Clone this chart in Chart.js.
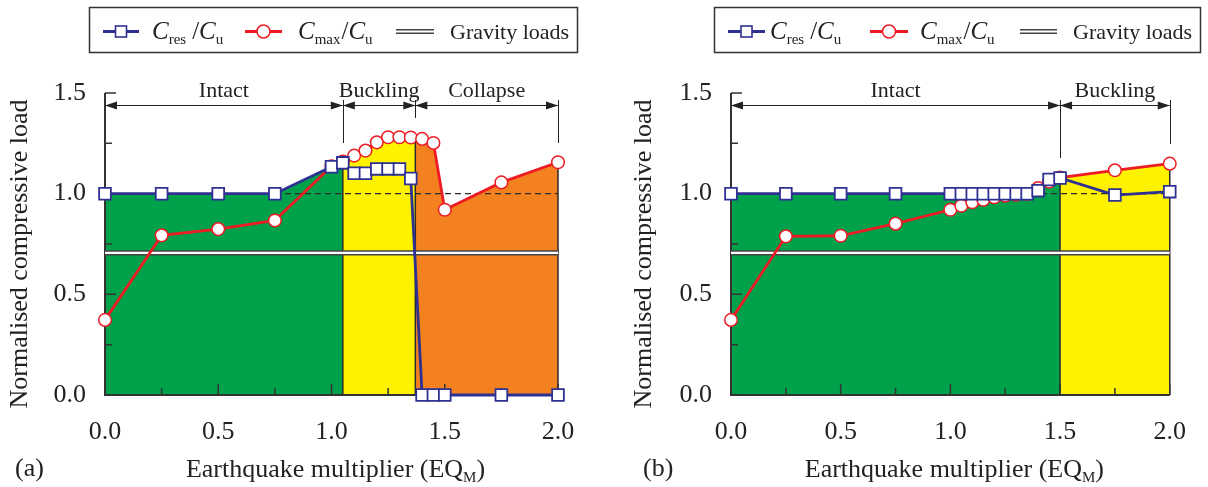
<!DOCTYPE html>
<html>
<head>
<meta charset="utf-8">
<script src="https://cdn.jsdelivr.net/npm/chart.js@4.4.1/dist/chart.umd.min.js"></script>
<style>
  html, body { margin: 0; padding: 0; background: #fff; }
  .panel { position: absolute; top: 0; width: 604px; height: 487px; }
  #wrapA { left: 0; }
  #wrapB { left: 604px; }
</style>
</head>
<body>
<div class="panel" id="wrapA"><canvas id="chartA" width="604" height="487"></canvas></div>
<div class="panel" id="wrapB"><canvas id="chartB" width="604" height="487"></canvas></div>
<script>
// axis ticks
const xTicks = [0, 0.5, 1.0, 1.5, 2.0];
const xMinor = [0.25, 0.75, 1.25, 1.75];
const yTicks = [0, 0.5, 1.0, 1.5];
const yMinor = [0.25, 0.75, 1.25];

// earthquake multipliers (same set for both panels)
const eqM = [0, 0.25, 0.5, 0.75, 1.0, 1.05, 1.10, 1.15, 1.20, 1.25, 1.30, 1.35, 1.40, 1.45, 1.50, 1.75, 2.0];

// panel (a)
const aCres = [1.0, 1.0, 1.0, 1.0, 1.134, 1.153, 1.101, 1.101, 1.123, 1.123, 1.123, 1.075, 0, 0, 0, 0, 0];
const aCmax = [0.373, 0.793, 0.824, 0.867, 1.136, 1.16, 1.189, 1.214, 1.255, 1.28, 1.28, 1.279, 1.272, 1.252, 0.92, 1.056, 1.156];
const aStages = ['Intact', 'Buckling', 'Collapse'];
const aStageEdges = [0, 1.05, 1.37, 2.0];

// panel (b)
const bCres = [1.0, 1.0, 1.0, 1.0, 1.0, 1.0, 1.0, 1.0, 1.0, 1.0, 1.0, 1.0, 1.015, 1.07, 1.078, 0.993, 1.01];
const bCmax = [0.373, 0.788, 0.791, 0.851, 0.92, 0.94, 0.957, 0.97, 0.982, 0.99, 0.995, 0.998, 1.028, 1.06, 1.08, 1.116, 1.149];
const bStages = ['Intact', 'Buckling'];
const bStageEdges = [0, 1.5, 2.0];

const gravityLoad = 0.706;
const refLevel = 1.0;

const FONT = '"Liberation Serif", "Times New Roman", serif';
const BLUE = '#2e3192', RED = '#ed1c24', INK = '#2b2b2b';
const GREEN = '#00a14b', YELLOW = '#fff200', ORANGE = '#f48120';

function pts(xs, ys) {
  return xs.map((x, i) => ({ x: x, y: ys[i] }));
}

// height of a polyline at x, only used to close a shaded band at a stage edge
function valueAt(xs, ys, x) {
  for (let i = 1; i < xs.length; i++) {
    if (x <= xs[i] + 1e-9) {
      const t = (x - xs[i - 1]) / (xs[i] - xs[i - 1]);
      return ys[i - 1] + t * (ys[i] - ys[i - 1]);
    }
  }
  return ys[ys.length - 1];
}

function band(xs, ys, from, to) {
  const out = [{ x: from, y: valueAt(xs, ys, from) }];
  xs.forEach((x, i) => { if (x > from + 1e-9 && x < to - 1e-9) out.push({ x: x, y: ys[i] }); });
  out.push({ x: to, y: valueAt(xs, ys, to) });
  return out;
}

function drawRatio(ctx, x, base, sub) {
  // C_sub / C_u
  ctx.textAlign = 'left';
  ctx.font = 'italic 25px ' + FONT;
  ctx.fillText('C', x, base);
  x += ctx.measureText('C').width;
  ctx.font = '15px ' + FONT;
  ctx.fillText(sub, x, base + 5);
  x += ctx.measureText(sub).width + (sub === 'res' ? 6 : 1);
  ctx.font = '25px ' + FONT;
  ctx.fillText('/', x, base);
  x += ctx.measureText('/').width;
  ctx.font = 'italic 25px ' + FONT;
  ctx.fillText('C', x, base);
  x += ctx.measureText('C').width;
  ctx.font = '15px ' + FONT;
  ctx.fillText('u', x, base + 5);
}

function makeDecor(c) {
  return {
    id: 'decor',
    beforeDatasetDraw(chart, args) {
      if (args.index !== 4) return;
      const ctx = chart.ctx, xs = chart.scales.x, ys = chart.scales.y;
      const y0 = ys.getPixelForValue(0);
      ctx.save();
      // stage borders
      ctx.strokeStyle = INK;
      ctx.lineWidth = 1.5;
      c.edges.forEach((e, i) => {
        if (i === 0) return;
        const top = valueAt(eqM, c.bandTop[i - 1] === 'res' ? c.cres : c.cmax, e);
        const px = xs.getPixelForValue(e);
        ctx.beginPath();
        ctx.moveTo(px, y0);
        ctx.lineTo(px, ys.getPixelForValue(top));
        ctx.stroke();
      });
      // axes with inward ticks
      const x0 = xs.getPixelForValue(0);
      ctx.strokeStyle = '#333';
      ctx.lineWidth = 2;
      ctx.beginPath();
      ctx.moveTo(x0, ys.getPixelForValue(yTicks[yTicks.length - 1]));
      ctx.lineTo(x0, y0);
      ctx.lineTo(xs.getPixelForValue(xTicks[xTicks.length - 1]), y0);
      ctx.stroke();
      ctx.lineWidth = 1.5;
      ctx.beginPath();
      yTicks.forEach(v => { const p = ys.getPixelForValue(v); ctx.moveTo(x0, p); ctx.lineTo(x0 + 11, p); });
      yMinor.forEach(v => { const p = ys.getPixelForValue(v); ctx.moveTo(x0, p); ctx.lineTo(x0 + 7, p); });
      xTicks.forEach(v => { const p = xs.getPixelForValue(v); ctx.moveTo(p, y0); ctx.lineTo(p, y0 - 11); });
      xMinor.forEach(v => { const p = xs.getPixelForValue(v); ctx.moveTo(p, y0); ctx.lineTo(p, y0 - 7); });
      ctx.stroke();
      ctx.restore();
    },
    afterDraw(chart) {
      const ctx = chart.ctx, xs = chart.scales.x, ys = chart.scales.y;
      const area = chart.chartArea;
      ctx.save();
      ctx.fillStyle = '#222';
      ctx.strokeStyle = '#222';

      // stage spans with dimension arrows
      const yA = area.top + 12, yL = area.top + 7;
      ctx.lineWidth = 1;
      c.edges.forEach((e, i) => {
        if (i === 0 || c.leaders[i] == null) return;
        const px = Math.round(xs.getPixelForValue(e)) + 0.5;
        ctx.beginPath();
        ctx.moveTo(px, yL);
        ctx.lineTo(px, area.top + c.leaders[i]);
        ctx.stroke();
      });
      c.stages.forEach((name, i) => {
        const a = xs.getPixelForValue(c.edges[i]), b = xs.getPixelForValue(c.edges[i + 1]);
        ctx.beginPath();
        ctx.moveTo(a, yA + 0.5);
        ctx.lineTo(b, yA + 0.5);
        ctx.stroke();
        [[a, 1], [b, -1]].forEach(([p, d]) => {
          ctx.beginPath();
          ctx.moveTo(p, yA + 0.5);
          ctx.lineTo(p + d * 12, yA - 3.5);
          ctx.lineTo(p + d * 12, yA + 4.5);
          ctx.closePath();
          ctx.fill();
        });
        ctx.font = '22px ' + FONT;
        ctx.textAlign = 'center';
        ctx.textBaseline = 'alphabetic';
        ctx.fillText(name, (a + b) / 2, area.top + 4);
      });

      // legend box
      const L = c.legend;
      ctx.strokeStyle = '#333';
      ctx.lineWidth = 1.5;
      ctx.strokeRect(L.box[0] + 0.5, 7.5, L.box[1] - L.box[0], 45);
      const cy = 31.5;
      ctx.lineWidth = 2.8;
      ctx.strokeStyle = BLUE;
      ctx.beginPath(); ctx.moveTo(L.res[0], cy); ctx.lineTo(L.res[1], cy); ctx.stroke();
      const sx = (L.res[0] + L.res[1]) / 2;
      ctx.fillStyle = '#fff';
      ctx.lineWidth = 1.6;
      ctx.fillRect(sx - 5.5, cy - 5.5, 11, 11);
      ctx.strokeRect(sx - 5.5, cy - 5.5, 11, 11);
      ctx.strokeStyle = RED;
      ctx.lineWidth = 2.8;
      ctx.beginPath(); ctx.moveTo(L.max[0], cy); ctx.lineTo(L.max[1], cy); ctx.stroke();
      ctx.lineWidth = 1.5;
      ctx.beginPath(); ctx.arc((L.max[0] + L.max[1]) / 2, cy, 6.5, 0, Math.PI * 2); ctx.fill(); ctx.stroke();
      ctx.strokeStyle = '#444';
      ctx.lineWidth = 5;
      ctx.beginPath(); ctx.moveTo(L.grav[0], cy); ctx.lineTo(L.grav[1], cy); ctx.stroke();
      ctx.strokeStyle = '#fff';
      ctx.lineWidth = 2;
      ctx.beginPath(); ctx.moveTo(L.grav[0] - 1, cy); ctx.lineTo(L.grav[1] + 1, cy); ctx.stroke();
      ctx.fillStyle = '#222';
      ctx.textBaseline = 'alphabetic';
      drawRatio(ctx, L.res[2], 38.5, 'res');
      drawRatio(ctx, L.max[2], 38.5, 'max');
      ctx.font = '22px ' + FONT;
      ctx.textAlign = 'left';
      ctx.fillText('Gravity loads', L.grav[2], 39);

      // axis titles
      ctx.save();
      ctx.translate(c.yTitleX, 254);
      ctx.rotate(-Math.PI / 2);
      ctx.font = '26px ' + FONT;
      ctx.textAlign = 'center';
      ctx.textBaseline = 'middle';
      ctx.fillText('Normalised compressive load', 0, 0);
      ctx.restore();

      ctx.textAlign = 'left';
      ctx.textBaseline = 'alphabetic';
      ctx.font = '26px ' + FONT;
      const main = 'Earthquake multiplier (EQ';
      const w1 = ctx.measureText(main).width, w3 = ctx.measureText(')').width;
      ctx.font = '15px ' + FONT;
      const w2 = ctx.measureText('M').width;
      let tx = (area.left + area.right) / 2 + 4 - (w1 + w2 + w3) / 2;
      ctx.font = '26px ' + FONT;
      ctx.fillText(main, tx, 477);
      ctx.font = '15px ' + FONT;
      ctx.fillText('M', tx + w1, 482);
      ctx.font = '26px ' + FONT;
      ctx.fillText(')', tx + w1 + w2, 477);
      ctx.fillText(c.tag, c.tagX, 476);
      ctx.restore();
    }
  };
}

function makeChart(id, c) {
  const datasets = [
    { data: pts(eqM, c.cres), borderColor: BLUE, borderWidth: 2.8, pointStyle: 'rect', pointRadius: 8.3,
      pointBackgroundColor: '#fff', pointBorderColor: BLUE, pointBorderWidth: 1.8, clip: false },
    { data: pts(eqM, c.cmax), borderColor: RED, borderWidth: 2.8, pointStyle: 'circle', pointRadius: 6.3,
      pointBackgroundColor: '#fff', pointBorderColor: RED, pointBorderWidth: 1.5, clip: false },
    { data: [{ x: xTicks[0], y: gravityLoad }, { x: xTicks[xTicks.length - 1], y: gravityLoad }],
      borderColor: '#fff', borderWidth: 2.2, pointRadius: 0 },
    { data: [{ x: xTicks[0], y: gravityLoad }, { x: xTicks[xTicks.length - 1], y: gravityLoad }],
      borderColor: '#444', borderWidth: 5.4, pointRadius: 0 },
    { data: [{ x: xTicks[0], y: refLevel }, { x: xTicks[xTicks.length - 1], y: refLevel }],
      borderColor: INK, borderWidth: 1.3, borderDash: [6, 4], pointRadius: 0 }
  ];
  c.stages.forEach((s, i) => {
    const src = c.bandTop[i] === 'res' ? c.cres : c.cmax;
    datasets.push({
      data: band(eqM, src, c.edges[i], c.edges[i + 1]),
      fill: 'origin', backgroundColor: c.bandColors[i],
      borderColor: 'transparent', borderWidth: 0, pointRadius: 0
    });
  });

  return new Chart(document.getElementById(id), {
    type: 'line',
    data: { datasets: datasets },
    options: {
      responsive: false,
      animation: false,
      events: [],
      layout: { padding: { top: 93, right: c.padRight, left: 0, bottom: 0 } },
      plugins: { legend: { display: false }, tooltip: { enabled: false } },
      scales: {
        x: {
          type: 'linear', min: 0, max: 2,
          grid: { display: false, drawTicks: false }, border: { display: false },
          afterBuildTicks: s => { s.ticks = xTicks.map(v => ({ value: v })); },
          ticks: { callback: v => v.toFixed(1), font: { family: FONT, size: 26 }, color: '#222', padding: 22, maxRotation: 0 },
          afterFit: s => { s.height = 92; }
        },
        y: {
          type: 'linear', min: 0, max: 1.5,
          grid: { display: false, drawTicks: false }, border: { display: false },
          afterBuildTicks: s => { s.ticks = yTicks.map(v => ({ value: v })); },
          ticks: { callback: v => v.toFixed(1), font: { family: FONT, size: 26 }, color: '#222', padding: 19 },
          afterFit: s => { s.width = c.axisWidth; }
        }
      }
    },
    plugins: [makeDecor(c)]
  });
}

makeChart('chartA', {
  cres: aCres, cmax: aCmax, stages: aStages, edges: aStageEdges,
  bandTop: ['res', 'max', 'max'], bandColors: [GREEN, YELLOW, ORANGE],
  leaders: [null, 50, 25, 50],
  axisWidth: 105, padRight: 46, yTitleX: 20, tag: '(a)', tagX: 15,
  legend: { box: [89, 577], res: [103, 139, 152], max: [245, 282, 298], grav: [396, 434, 450] }
});

makeChart('chartB', {
  cres: bCres, cmax: bCmax, stages: bStages, edges: bStageEdges,
  bandTop: ['res', 'max'], bandColors: [GREEN, YELLOW],
  leaders: [null, 65, 51],
  axisWidth: 127, padRight: 24, yTitleX: 40, tag: '(b)', tagX: 39,
  legend: { box: [110, 596], res: [124, 161, 166], max: [266, 304, 316], grav: [416, 453, 469] }
});
</script>
</body>
</html>
